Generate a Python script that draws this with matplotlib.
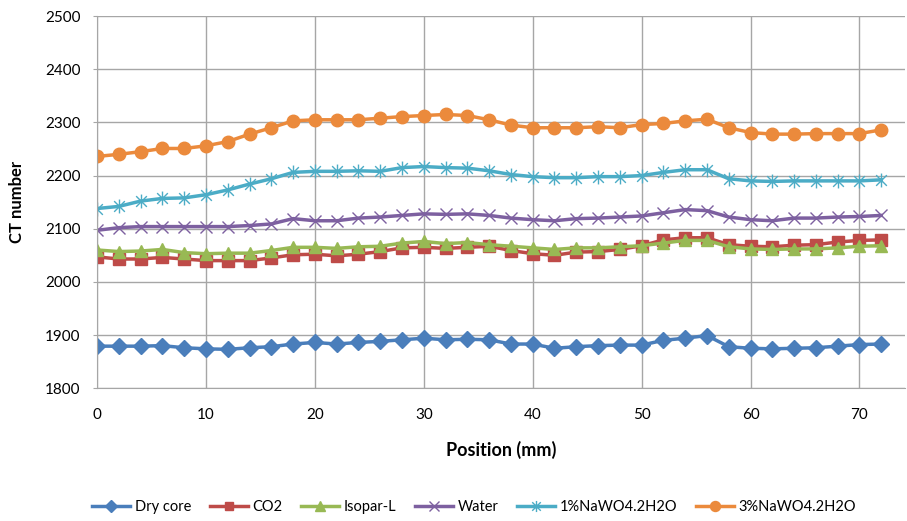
import numpy as np
import matplotlib
matplotlib.use("Agg")
import matplotlib.pyplot as plt
from matplotlib.path import Path

plt.rcParams['font.family'] = ['Lato', 'DejaVu Sans']

# positions along the core (mm)
position = np.arange(0, 74, 2)

dry_core = [1879, 1879, 1879, 1880, 1876, 1874, 1873, 1876, 1878, 1883, 1886, 1883, 1886,
            1888, 1891, 1894, 1891, 1892, 1891, 1883, 1883, 1875, 1878, 1880, 1881,
            1881, 1890, 1894, 1899, 1878, 1875, 1874, 1875, 1876, 1879, 1882, 1883]
co2 = [2047, 2043, 2043, 2046, 2043, 2040, 2040, 2040, 2045, 2051, 2052, 2049, 2052,
       2057, 2064, 2065, 2063, 2065, 2067, 2059, 2053, 2050, 2056, 2057, 2061,
       2068, 2079, 2083, 2083, 2070, 2067, 2066, 2069, 2070, 2075, 2078, 2079]
isopar = [2060, 2057, 2058, 2061, 2055, 2053, 2054, 2054, 2059, 2065, 2065, 2063, 2066,
          2067, 2073, 2076, 2072, 2074, 2070, 2067, 2064, 2061, 2064, 2064, 2066,
          2068, 2073, 2078, 2078, 2066, 2062, 2061, 2062, 2062, 2064, 2067, 2068]
water = [2097, 2102, 2104, 2104, 2104, 2104, 2104, 2106, 2109, 2119, 2115, 2115, 2120,
         2122, 2125, 2128, 2127, 2128, 2125, 2120, 2117, 2115, 2119, 2120, 2122,
         2124, 2130, 2136, 2134, 2122, 2117, 2115, 2120, 2120, 2122, 2123, 2125]
nawo4_1 = [2138, 2142, 2152, 2157, 2158, 2164, 2173, 2184, 2194, 2206, 2208, 2208, 2209,
           2208, 2215, 2217, 2215, 2214, 2209, 2202, 2198, 2196, 2196, 2198, 2198,
           2200, 2206, 2211, 2211, 2194, 2190, 2189, 2190, 2190, 2190, 2190, 2192]
nawo4_3 = [2236, 2240, 2245, 2251, 2251, 2256, 2264, 2278, 2290, 2303, 2305, 2305, 2305,
           2308, 2311, 2313, 2315, 2313, 2305, 2295, 2290, 2290, 2290, 2292, 2290,
           2296, 2298, 2303, 2306, 2290, 2281, 2278, 2278, 2279, 2279, 2279, 2286]

labels = ['Dry core', 'CO2', 'Isopar-L', 'Water', '1%NaWO4.2H2O', '3%NaWO4.2H2O']
xticks = [0, 10, 20, 30, 40, 50, 60, 70]
yticks = [1800, 1900, 2000, 2100, 2200, 2300, 2400, 2500]

# excel-style star: an x with a vertical bar through it
star = Path([(-1, -1), (1, 1), (-1, 1), (1, -1), (0, -1.3), (0, 1.3)],
            [Path.MOVETO, Path.LINETO, Path.MOVETO, Path.LINETO, Path.MOVETO, Path.LINETO])

styles = [
    dict(color='#4A7EBB', marker='D', ms=8),
    dict(color='#BE4B48', marker='s', ms=8),
    dict(color='#98B954', marker='^', ms=9),
    dict(color='#7D60A0', marker='x', ms=9, mew=1.0),
    dict(color='#4BACC6', marker=star, ms=10, mew=1.0),
    dict(color='#EB8A3C', marker='o', ms=9),
]

fig = plt.figure(figsize=(9.07, 5.21), dpi=100)
ax = fig.add_axes([0.107, 0.255, 0.891, 0.714])

series = [dry_core, co2, isopar, water, nawo4_1, nawo4_3]
for vals, lab, st in zip(series, labels, styles):
    ax.plot(position, vals, lw=2.5, label=lab, **st)

ax.set_xlim(0, 74.2)
ax.set_ylim(1800, 2500)
ax.set_xticks(xticks)
ax.set_yticks(yticks)
ax.grid(True, color='#A6A6A6', lw=1.0)
ax.set_axisbelow(True)
for side in ['top', 'right']:
    ax.spines[side].set_visible(False)
for side in ['left', 'bottom']:
    ax.spines[side].set_color('#A6A6A6')
ax.tick_params(axis='x', length=0, pad=14, labelsize=11)
ax.tick_params(axis='y', length=3, color='#A6A6A6', pad=9, labelsize=11)

ax.set_xlabel('Position (mm)', fontsize=13, fontweight='bold', labelpad=14)
ax.set_ylabel('CT number', fontsize=12, fontweight='bold', labelpad=14)

fig.legend(loc='center', bbox_to_anchor=(0.523, 0.027), ncol=6, frameon=False,
           fontsize=10.5, handlelength=2.6, handletextpad=0.3, columnspacing=1.3,
           markerscale=0.8)

fig.savefig('out.png', dpi=100)
